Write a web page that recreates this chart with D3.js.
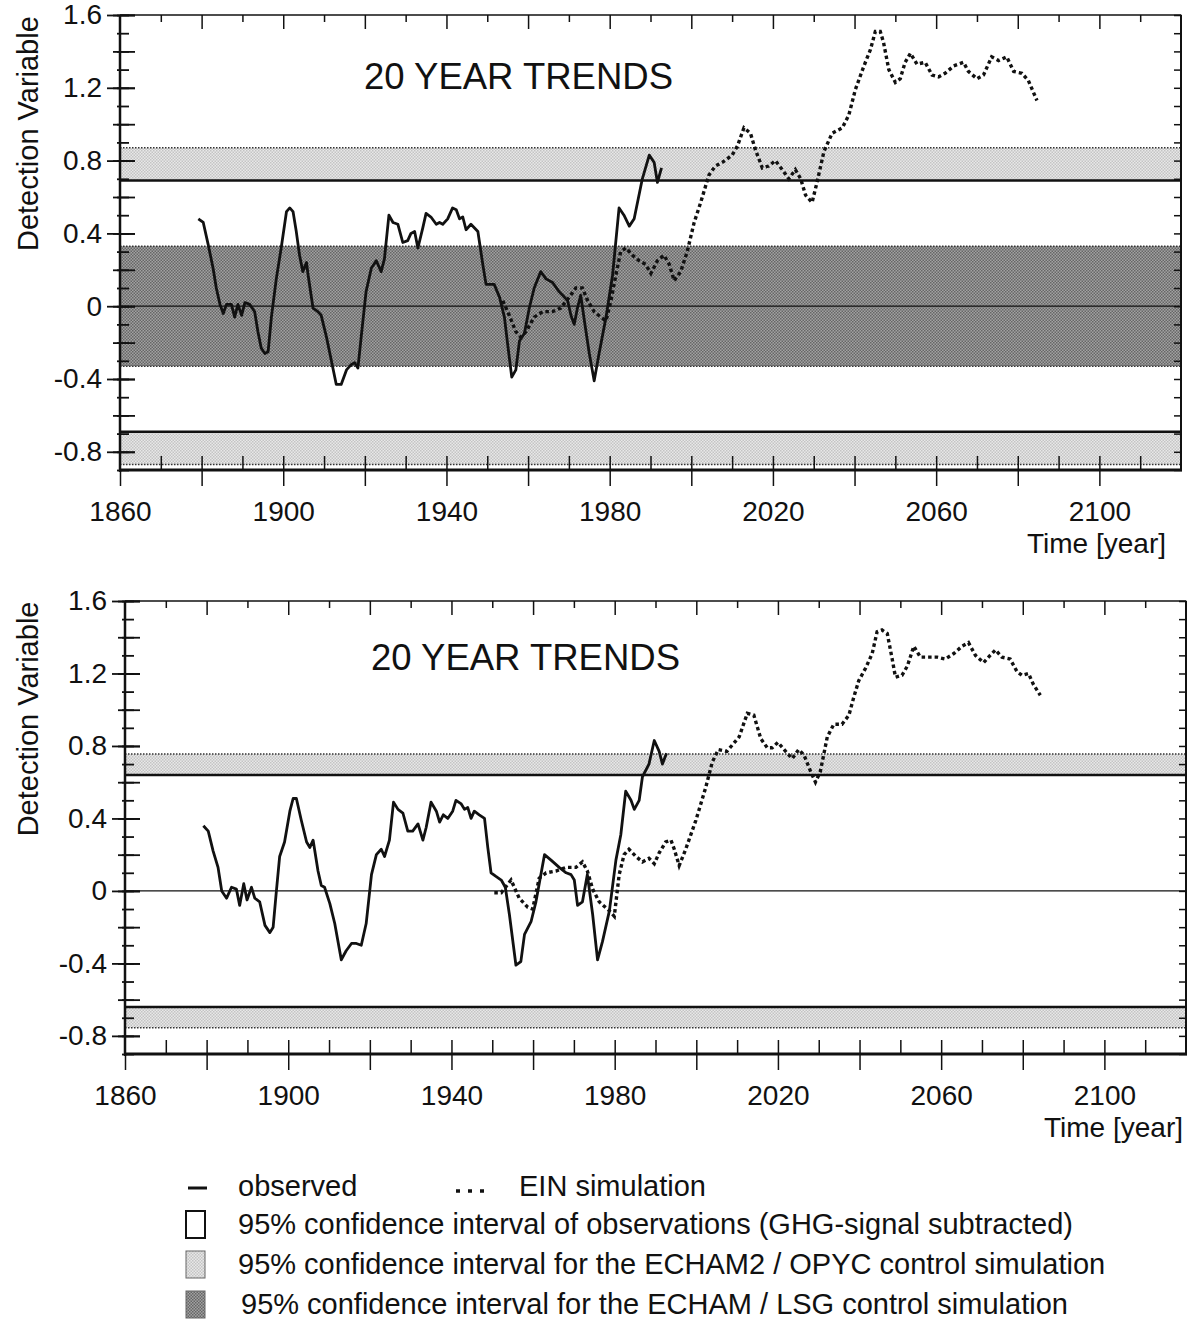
<!DOCTYPE html>
<html>
<head>
<meta charset="utf-8">
<script src="https://cdn.jsdelivr.net/npm/d3@7"></script>
<style>
  body { margin: 0; background: #fff; }
  svg { font-family: "Liberation Sans", Arial, sans-serif; }
</style>
</head>
<body>
<svg width="1190" height="1320"></svg>
<script>
// x ticks labelled every 40 years
let yearLabels = [1860, 1900, 1940, 1980, 2020, 2060, 2100];
let valueLabels = [-0.8, -0.4, 0, 0.4, 0.8, 1.2, 1.6];

// band limits (symmetric around 0)
let topBands = { obs: 0.69, opyc: 0.87, lsg: 0.33 };
let bottomBands = { obs: 0.64, opyc: 0.755, lsg: null };

// upper panel: observed 20 year trends
let obsTop = [[1879.2,0.48],[1880.4,0.46],[1881.6,0.34],[1882.8,0.21],[1883.6,0.10],[1884.5,0.01],[1885.3,-0.04],[1886.1,0.01],[1887.3,0.01],[1888.1,-0.06],[1888.9,0.01],[1889.8,-0.05],[1890.6,0.02],[1891.8,0.01],[1893,-0.03],[1893.8,-0.14],[1894.6,-0.23],[1895.5,-0.26],[1896.3,-0.25],[1897.1,-0.06],[1898.3,0.15],[1899.5,0.32],[1900.8,0.52],[1901.6,0.54],[1902.4,0.52],[1903.2,0.41],[1904.0,0.28],[1904.8,0.19],[1905.7,0.24],[1906.1,0.17],[1907.3,-0.01],[1908.5,-0.03],[1909.3,-0.05],[1910.6,-0.17],[1911.8,-0.30],[1913.0,-0.43],[1914.2,-0.43],[1915.5,-0.35],[1916.7,-0.32],[1917.5,-0.31],[1918.3,-0.34],[1919.1,-0.17],[1920.3,0.08],[1921.6,0.21],[1922.8,0.25],[1924.0,0.19],[1924.8,0.26],[1925.9,0.50],[1926.9,0.46],[1928.1,0.45],[1929.3,0.35],[1930.5,0.36],[1931.3,0.40],[1932.2,0.41],[1933.0,0.32],[1934.2,0.43],[1935.0,0.51],[1936.2,0.49],[1937.5,0.45],[1938.3,0.46],[1939.1,0.45],[1940.3,0.48],[1941.5,0.54],[1942.4,0.53],[1943.2,0.48],[1944.0,0.49],[1944.8,0.42],[1946.0,0.45],[1947.7,0.41],[1948.9,0.23],[1949.7,0.12],[1951.7,0.12],[1953.0,0.05],[1954.2,-0.06],[1955.0,-0.21],[1956.0,-0.39],[1957.0,-0.35],[1957.9,-0.19],[1959.1,-0.15],[1960.3,-0.01],[1961.5,0.10],[1963.1,0.19],[1964.4,0.15],[1966.0,0.13],[1967.6,0.08],[1968.9,0.05],[1969.7,0.03],[1970.5,-0.05],[1971.3,-0.10],[1972.1,-0.01],[1972.9,0.06],[1973.8,-0.08],[1975.0,-0.26],[1976.2,-0.41],[1977.4,-0.26],[1979.1,-0.06],[1980.7,0.17],[1982.3,0.54],[1983.5,0.50],[1984.8,0.44],[1986.0,0.48],[1988.0,0.70],[1989.7,0.83],[1990.9,0.79],[1991.7,0.68],[1992.7,0.76]];

// upper panel: EIN simulation
let einTop = [[1953.8,0.03],[1955.4,-0.05],[1957.0,-0.14],[1958.2,-0.17],[1959.5,-0.14],[1961.5,-0.06],[1963.6,-0.03],[1966.0,-0.03],[1968.0,-0.01],[1970.1,0.05],[1971.7,0.10],[1973.3,0.10],[1974.6,0.03],[1976.2,-0.03],[1977.8,-0.06],[1979.1,-0.08],[1980.3,0.03],[1981.5,0.17],[1982.7,0.30],[1984.0,0.32],[1985.6,0.28],[1987.2,0.25],[1988.8,0.23],[1990.1,0.18],[1991.7,0.25],[1993.3,0.28],[1994.6,0.23],[1995.8,0.14],[1997.4,0.19],[1999.0,0.30],[2000.7,0.46],[2002.3,0.57],[2004.3,0.72],[2005.9,0.77],[2007.6,0.79],[2010.0,0.83],[2011.3,0.88],[2012.9,0.98],[2014.5,0.95],[2015.7,0.86],[2017.4,0.76],[2019.0,0.77],[2020.6,0.80],[2022.3,0.75],[2023.9,0.70],[2025.5,0.75],[2026.8,0.70],[2028.0,0.61],[2029.6,0.57],[2030.8,0.68],[2032.5,0.85],[2034.5,0.95],[2037.0,0.98],[2038.6,1.05],[2040.2,1.19],[2042.3,1.32],[2043.9,1.41],[2045.1,1.51],[2046.3,1.51],[2047.1,1.45],[2048.4,1.30],[2050.0,1.23],[2051.2,1.25],[2052.4,1.34],[2053.7,1.39],[2055.3,1.33],[2057.3,1.34],[2059.0,1.27],[2060.6,1.26],[2062.2,1.28],[2064.3,1.32],[2066.7,1.34],[2067.9,1.29],[2070.0,1.25],[2071.6,1.27],[2073.6,1.37],[2075.3,1.35],[2077.3,1.37],[2079.0,1.29],[2081.0,1.28],[2082.6,1.24],[2084.7,1.13]];

// lower panel: observed
let obsBottom = [[1879.2,0.36],[1880.4,0.33],[1881.6,0.22],[1882.8,0.13],[1883.7,0.0],[1884.9,-0.04],[1886.1,0.02],[1887.3,0.01],[1888.1,-0.08],[1889.1,0.04],[1889.9,-0.05],[1891.0,0.02],[1891.8,-0.04],[1893.0,-0.06],[1894.3,-0.19],[1895.5,-0.23],[1896.3,-0.20],[1897.1,0.0],[1897.9,0.19],[1899.1,0.27],[1900.4,0.44],[1901.2,0.51],[1902.0,0.51],[1903.2,0.39],[1904.5,0.27],[1905.3,0.24],[1906.1,0.28],[1907.3,0.11],[1908.1,0.03],[1908.9,0.02],[1910.2,-0.07],[1911.4,-0.18],[1913.0,-0.38],[1914.2,-0.33],[1915.5,-0.29],[1916.7,-0.29],[1917.9,-0.30],[1919.1,-0.18],[1920.4,0.09],[1921.6,0.20],[1922.8,0.23],[1923.6,0.19],[1924.8,0.28],[1925.8,0.49],[1926.9,0.45],[1928.1,0.43],[1929.3,0.33],[1930.5,0.33],[1931.8,0.37],[1933.0,0.28],[1933.8,0.35],[1935.0,0.49],[1936.3,0.44],[1937.1,0.38],[1938.0,0.42],[1939.1,0.40],[1940.3,0.44],[1941.1,0.50],[1942.4,0.48],[1943.2,0.45],[1944.0,0.46],[1944.8,0.40],[1945.6,0.44],[1946.8,0.42],[1948.1,0.40],[1948.9,0.24],[1949.7,0.10],[1950.9,0.08],[1952.2,0.06],[1953.2,0.02],[1954.2,-0.13],[1955.8,-0.41],[1957.0,-0.39],[1957.9,-0.24],[1959.5,-0.17],[1960.7,-0.06],[1962.8,0.20],[1964.4,0.17],[1966.4,0.13],[1968.1,0.10],[1969.3,0.09],[1970.1,0.06],[1970.9,-0.08],[1972.1,-0.06],[1973.3,0.09],[1974.6,-0.13],[1975.8,-0.38],[1977.0,-0.28],[1978.7,-0.11],[1980.3,0.17],[1981.5,0.31],[1982.7,0.55],[1984.0,0.50],[1984.8,0.45],[1986.0,0.50],[1986.8,0.63],[1988.4,0.70],[1989.7,0.83],[1990.9,0.77],[1991.7,0.70],[1992.7,0.76]];

// lower panel: EIN simulation
let einBottom = [[1950.5,-0.01],[1952.2,-0.01],[1954.6,0.06],[1956.6,-0.04],[1958.7,-0.09],[1959.9,-0.10],[1961.5,0.07],[1963.2,0.10],[1965.6,0.11],[1968.1,0.13],[1970.5,0.13],[1972.1,0.16],[1973.3,0.11],[1974.6,0.01],[1976.2,-0.06],[1978.7,-0.11],[1979.9,-0.14],[1981.1,0.09],[1982.3,0.20],[1983.5,0.23],[1985.2,0.19],[1986.8,0.16],[1988.4,0.18],[1989.7,0.15],[1990.9,0.21],[1992.5,0.27],[1993.8,0.28],[1994.6,0.23],[1995.8,0.14],[1997.4,0.23],[1999.9,0.39],[2002.3,0.57],[2003.9,0.71],[2005.4,0.78],[2007.5,0.77],[2009.0,0.81],[2010.5,0.85],[2012.5,0.98],[2014.1,0.97],[2015.8,0.84],[2017.4,0.79],[2018.6,0.79],[2020.0,0.82],[2021.9,0.77],[2023.5,0.73],[2025.1,0.78],[2026.4,0.75],[2028.0,0.66],[2029.2,0.60],[2030.4,0.66],[2032.1,0.85],[2033.7,0.92],[2035.7,0.92],[2037.4,0.97],[2038.6,1.07],[2039.8,1.16],[2041.5,1.23],[2043.1,1.31],[2044.3,1.43],[2045.5,1.44],[2046.8,1.42],[2048.0,1.28],[2048.8,1.18],[2050.4,1.19],[2051.7,1.24],[2053.3,1.35],[2054.9,1.29],[2057.0,1.29],[2059.0,1.29],[2061.0,1.28],[2063.1,1.31],[2065.1,1.35],[2066.7,1.37],[2068.4,1.30],[2070.4,1.26],[2072.0,1.30],[2073.3,1.33],[2074.9,1.29],[2076.9,1.28],[2078.6,1.21],[2079.8,1.19],[2081.4,1.20],[2082.6,1.14],[2084.3,1.08]];

let legendLabels = [
  "95% confidence interval of observations (GHG-signal subtracted)",
  "95% confidence interval for the ECHAM2 / OPYC control simulation",
  "95% confidence interval for the ECHAM / LSG control simulation"
];

let svg = d3.select('svg');

// halftone-ish fills
let defs = svg.append('defs');
let makePattern = (id, bg, fg) => {
  let p = defs.append('pattern').attr('id', id)
    .attr('width', 3).attr('height', 3).attr('patternUnits', 'userSpaceOnUse');
  p.append('rect').attr('width', 3).attr('height', 3).attr('fill', bg);
  p.append('rect').attr('width', 1.5).attr('height', 1.5).attr('fill', fg);
  p.append('rect').attr('x', 1.5).attr('y', 1.5).attr('width', 1.5).attr('height', 1.5).attr('fill', fg);
}
makePattern('light', '#e8e8e8', '#c4c4c4');
makePattern('dark', '#a2a2a2', '#666666');

let fmtVal = d => d === 0 ? '0' : (d < 0 ? '-' : '') + d3.format('.1f')(Math.abs(d));

let drawPanel = (cfg) => {
  let xScale = d3.scaleLinear().domain([1860, 2120]).range([cfg.left, cfg.right]);
  let yScale = d3.scaleLinear().domain([-0.9, 1.6]).range([cfg.bottom, cfg.top]);
  let g = svg.append('g');
  let x0 = xScale(1860), x1 = xScale(2120);

  // bands
  let band = (lo, hi, fill) => {
    g.append('rect').attr('x', x0).attr('width', x1 - x0)
      .attr('y', yScale(hi)).attr('height', yScale(lo) - yScale(hi))
      .attr('fill', fill);
  }
  let dotted = (v) => {
    g.append('line').attr('x1', x0).attr('x2', x1)
      .attr('y1', yScale(v)).attr('y2', yScale(v))
      .attr('stroke', '#333').attr('stroke-width', 1.5).attr('stroke-dasharray', '1.5,1.5');
  }
  let b = cfg.bands;
  band(b.obs, b.opyc, 'url(#light)');
  band(-b.opyc, -b.obs, 'url(#light)');
  dotted(b.opyc); dotted(-b.opyc);
  if (b.lsg) {
    band(-b.lsg, b.lsg, 'url(#dark)');
    dotted(b.lsg); dotted(-b.lsg);
  }
  [b.obs, -b.obs].forEach(v => {
    g.append('line').attr('x1', x0).attr('x2', x1)
      .attr('y1', yScale(v)).attr('y2', yScale(v))
      .attr('stroke', '#111').attr('stroke-width', 2.5);
  });
  // zero line
  g.append('line').attr('x1', x0).attr('x2', x1)
    .attr('y1', yScale(0)).attr('y2', yScale(0))
    .attr('stroke', '#111').attr('stroke-width', 1.2);

  // curves
  let line = d3.line().x(d => xScale(d[0])).y(d => yScale(d[1]));
  g.append('path').datum(cfg.ein).attr('d', line)
    .attr('fill', 'none').attr('stroke', '#111').attr('stroke-width', 3.4)
    .attr('stroke-dasharray', '3.5,3');
  g.append('path').datum(cfg.obs).attr('d', line)
    .attr('fill', 'none').attr('stroke', '#111').attr('stroke-width', 2.8)
    .attr('stroke-linejoin', 'round');

  // frame
  g.append('line').attr('x1', x0).attr('x2', x1).attr('y1', cfg.top).attr('y2', cfg.top)
    .attr('stroke', '#111').attr('stroke-width', 1.5);
  g.append('line').attr('x1', x1).attr('x2', x1).attr('y1', cfg.top).attr('y2', cfg.bottom)
    .attr('stroke', '#111').attr('stroke-width', 2);

  // y ticks (left)
  let yMinor = d3.axisLeft(yScale).tickValues(d3.range(-0.9, 1.61, 0.1)).tickSize(3).tickFormat('');
  let yMid = d3.axisLeft(yScale).tickValues(d3.range(-0.8, 1.61, 0.2)).tickSize(7).tickFormat('');
  let yMajor = d3.axisLeft(yScale).tickValues(valueLabels).tickSize(13).tickPadding(5)
    .tickFormat(fmtVal);
  [[yMinor, 9], [yMid, 15], [yMajor, 15]].forEach(([ax, inner]) => {
    let a = g.append('g').attr('transform', 'translate(' + x0 + ',0)').call(ax);
    a.select('.domain').remove();
    a.selectAll('.tick line').attr('x1', inner).attr('stroke', '#111').attr('stroke-width', 1.8);
    a.selectAll('text').attr('font-size', 28).attr('fill', '#111');
  });
  // right ticks
  let yRight = d3.axisLeft(yScale).tickValues(d3.range(-0.9, 1.61, 0.1)).tickSize(8).tickFormat('');
  let ar = g.append('g').attr('transform', 'translate(' + (x1 + 1) + ',0)').call(yRight);
  ar.select('.domain').remove();
  ar.selectAll('.tick line').attr('stroke', '#111').attr('stroke-width', 1.5);

  // x ticks bottom
  let xMinor = d3.axisTop(xScale).tickValues(d3.range(1870, 2120, 10)).tickSize(14).tickFormat('');
  let a1 = g.append('g').attr('transform', 'translate(0,' + cfg.bottom + ')').call(xMinor);
  a1.select('.domain').remove();
  a1.selectAll('.tick line').attr('stroke', '#111').attr('stroke-width', 1.5);
  let xMid = d3.axisBottom(xScale).tickValues(d3.range(1860, 2120, 20)).tickSize(16).tickFormat('');
  let a2 = g.append('g').attr('transform', 'translate(0,' + cfg.bottom + ')').call(xMid);
  a2.select('.domain').remove();
  a2.selectAll('.tick line').attr('stroke', '#111').attr('stroke-width', 1.5);
  let xMajor = d3.axisBottom(xScale).tickValues(yearLabels).tickSize(0).tickPadding(31).tickFormat(d3.format('d'));
  let a3 = g.append('g').attr('transform', 'translate(0,' + cfg.bottom + ')').call(xMajor);
  a3.select('.domain').remove();
  a3.selectAll('text').attr('font-size', 28).attr('fill', '#111');
  // x ticks top
  let xTop = d3.axisBottom(xScale).tickValues(d3.range(1870, 2120, 10)).tickSize(0).tickFormat('');
  let a4 = g.append('g').attr('transform', 'translate(0,' + cfg.top + ')').call(xTop);
  a4.select('.domain').remove();
  a4.selectAll('.tick line').attr('y2', d => (d - 1860) % 20 === 0 ? 14 : 7)
    .attr('stroke', '#111').attr('stroke-width', 1.5);

  // axis lines
  g.append('line').attr('x1', x0).attr('x2', x0).attr('y1', cfg.top).attr('y2', cfg.bottom + 2)
    .attr('stroke', '#111').attr('stroke-width', 2.5);
  g.append('line').attr('x1', x0 - 1).attr('x2', x1 + 1).attr('y1', cfg.bottom).attr('y2', cfg.bottom)
    .attr('stroke', '#111').attr('stroke-width', 3);

  // texts
  g.append('text').attr('x', cfg.titleX).attr('y', cfg.titleY)
    .attr('font-size', 36.5).attr('fill', '#111').text('20 YEAR TRENDS');
  g.append('text')
    .attr('transform', 'translate(' + cfg.ylabX + ',' + ((cfg.top + yScale(0)) / 2 - 27) + ') rotate(-90)')
    .attr('text-anchor', 'middle').attr('font-size', 29).attr('fill', '#111')
    .text('Detection Variable');
  g.append('text').attr('x', cfg.timeX).attr('y', cfg.bottom + 83)
    .attr('text-anchor', 'end').attr('font-size', 28).attr('fill', '#111')
    .text('Time [year]');
}

drawPanel({ left: 120, right: 1181, top: 15, bottom: 470, bands: topBands,
  obs: obsTop, ein: einTop, titleX: 364, titleY: 89, ylabX: 38, timeX: 1166 });
drawPanel({ left: 125, right: 1186, top: 601, bottom: 1054, bands: bottomBands,
  obs: obsBottom, ein: einBottom, titleX: 371, titleY: 670, ylabX: 38, timeX: 1183 });

// legend
let lg = svg.append('g').attr('fill', '#111');
lg.append('line').attr('x1', 188).attr('x2', 207).attr('y1', 1188).attr('y2', 1188)
  .attr('stroke', '#111').attr('stroke-width', 3);
lg.append('text').attr('x', 238).attr('y', 1196).attr('font-size', 29).text('observed');
lg.append('line').attr('x1', 456).attr('x2', 486).attr('y1', 1191).attr('y2', 1191)
  .attr('stroke', '#111').attr('stroke-width', 3.5).attr('stroke-dasharray', '4,8');
lg.append('text').attr('x', 519).attr('y', 1196).attr('font-size', 29).text('EIN simulation');
let boxFills = ['#fff', 'url(#light)', 'url(#dark)'];
legendLabels.forEach((t, i) => {
  let yy = 1211 + i * 40;
  lg.append('rect').attr('x', 186).attr('y', yy).attr('width', 19).attr('height', 27)
    .attr('fill', boxFills[i]).attr('stroke', i === 0 ? '#111' : '#666').attr('stroke-width', i === 0 ? 2 : 1);
  lg.append('text').attr('x', 238 + (i === 2 ? 3 : 0)).attr('y', yy + 23).attr('font-size', 29).text(t);
});
</script>
</body>
</html>
